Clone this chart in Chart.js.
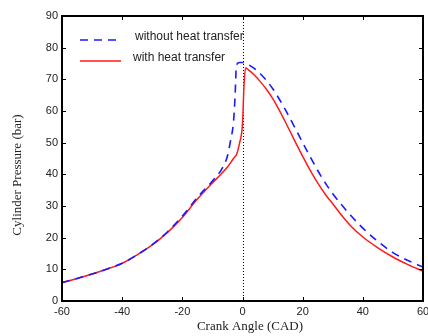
<!DOCTYPE html>
<html>
<head>
<meta charset="utf-8">
<script src="https://cdn.jsdelivr.net/npm/chart.js@4.4.1/dist/chart.umd.min.js"></script>
<style>
  html, body { margin: 0; padding: 0; background: #fff; }
  #pressureChart { display: block; }
</style>
</head>
<body>
<canvas id="pressureChart" width="428" height="336"></canvas>
<script>
// Crank angle (CAD) sample points
const crankAngle = [-60, -55, -50, -45, -40, -35, -30, -25, -20, -15, -10, -7, -5, -4, -3, -2.5, -2, -1, 0, 0.5, 1,
                    2, 4, 6, 8, 10, 12, 14, 16, 18, 20, 22, 24, 26, 28, 30, 33, 36, 40, 45, 50, 55, 60];

// Cylinder pressure (bar)
const pressureNoHeatTransfer = [5.8, 7.1, 8.5, 10.1, 11.9, 14.6, 17.8, 21.8, 26.8, 32.7, 37.9, 41.5, 45.8, 50.5, 56.5, 64, 74.5, 75.3, 75.3, 75.1, 75.0,
                                74.6, 73.4, 71.7, 69.6, 67.1, 64.1, 60.8, 57.3, 53.7, 50.0, 46.4, 42.9, 39.6, 36.6, 33.9, 30.3, 27.0, 23.0, 18.8, 15.3, 12.8, 10.7];
const pressureHeatTransfer = [5.8, 7.1, 8.5, 10.1, 11.9, 14.6, 17.7, 21.6, 26.4, 32.2, 37.3, 40.2, 42.3, 43.6, 45.0, 45.6, 46.2, 49.8, 56, 68, 73.6,
                              73.0, 71.3, 69.2, 66.8, 64.0, 60.7, 57.0, 53.2, 49.4, 45.7, 42.1, 38.8, 35.8, 33.1, 30.7, 27.0, 23.7, 20.2, 16.8, 13.9, 11.5, 9.4];

const seriesLabels = ['without heat transfer', 'with heat transfer'];
const xTicks = [-60, -40, -20, 0, 20, 40, 60];
const yTicks = [0, 10, 20, 30, 40, 50, 60, 70, 80, 90];

const toPoints = vals => crankAngle.map((a, i) => ({ x: a, y: vals[i] }));

// frame, inward ticks, TDC line, legend and axis titles
const framePlugin = {
  id: 'framePlugin',
  beforeDatasetsDraw(chart) {
    const { ctx, chartArea: a, scales: { x } } = chart;
    const x0 = Math.round(x.getPixelForValue(0)) + 0.5;
    ctx.save();
    ctx.strokeStyle = '#000';
    ctx.lineWidth = 1;
    ctx.setLineDash([1, 2]);
    ctx.beginPath();
    ctx.moveTo(x0, a.top);
    ctx.lineTo(x0, a.bottom);
    ctx.stroke();
    ctx.restore();
  },
  afterDatasetsDraw(chart) {
    const { ctx, chartArea: a, scales: { x, y } } = chart;
    const len = 4;
    ctx.save();
    ctx.strokeStyle = '#000';
    ctx.lineWidth = 1;
    ctx.beginPath();
    xTicks.forEach(v => {
      const px = Math.round(x.getPixelForValue(v)) + 0.5;
      ctx.moveTo(px, a.top); ctx.lineTo(px, a.top + len);
      ctx.moveTo(px, a.bottom); ctx.lineTo(px, a.bottom - len);
    });
    yTicks.forEach(v => {
      const py = Math.round(y.getPixelForValue(v)) + 0.5;
      ctx.moveTo(a.left, py); ctx.lineTo(a.left + len, py);
      ctx.moveTo(a.right, py); ctx.lineTo(a.right - len, py);
    });
    ctx.stroke();

    ctx.lineWidth = 2;
    ctx.strokeRect(a.left, a.top, a.right - a.left, a.bottom - a.top);

    // legend
    const ds = chart.data.datasets;
    const rows = [40, 61];
    ds.forEach((d, i) => {
      ctx.strokeStyle = d.borderColor;
      ctx.lineWidth = d.borderWidth;
      ctx.setLineDash(d.borderDash || []);
      ctx.beginPath();
      ctx.moveTo(80, rows[i]);
      ctx.lineTo(121, rows[i]);
      ctx.stroke();
      ctx.setLineDash([]);
      ctx.fillStyle = '#222';
      ctx.font = '12px "Liberation Sans", Arial, sans-serif';
      ctx.textBaseline = 'middle';
      ctx.textAlign = 'left';
      ctx.fillText(d.label, i === 0 ? 135 : 133, rows[i] - 3);
    });

    // axis titles
    ctx.fillStyle = '#222';
    ctx.font = '13px "Liberation Serif", "Times New Roman", serif';
    ctx.textAlign = 'center';
    ctx.textBaseline = 'middle';
    ctx.fillText('Crank Angle (CAD)', 250, 327);
    ctx.translate(18, 175);
    ctx.rotate(-Math.PI / 2);
    ctx.fillText('Cylinder Pressure (bar)', 0, 0);
    ctx.restore();
  }
};

const tickFont = { family: '"Liberation Sans", Arial, sans-serif', size: 11 };

new Chart(document.getElementById('pressureChart'), {
  type: 'line',
  data: {
    datasets: [{
      label: seriesLabels[0],
      data: toPoints(pressureNoHeatTransfer),
      borderColor: '#1a1aff',
      borderWidth: 1.6,
      borderDash: [8, 6],
      pointRadius: 0,
      cubicInterpolationMode: 'monotone',
      fill: false
    }, {
      label: seriesLabels[1],
      data: toPoints(pressureHeatTransfer),
      borderColor: '#ff1a1a',
      borderWidth: 1.5,
      pointRadius: 0,
      cubicInterpolationMode: 'monotone',
      fill: false
    }]
  },
  options: {
    responsive: false,
    animation: false,
    layout: { padding: { top: 16, right: 5, left: 0, bottom: 0 } },
    plugins: {
      legend: { display: false },
      tooltip: { enabled: false }
    },
    scales: {
      x: {
        type: 'linear',
        min: -60,
        max: 60,
        afterBuildTicks: s => { s.ticks = xTicks.map(v => ({ value: v })); },
        afterFit: s => { s.height = 35; s.paddingLeft = 0; s.paddingRight = 0; },
        grid: { display: false, drawTicks: false },
        border: { display: false },
        ticks: { font: tickFont, color: '#222', padding: 4, maxRotation: 0 }
      },
      y: {
        min: 0,
        max: 90,
        afterBuildTicks: s => { s.ticks = yTicks.map(v => ({ value: v })); },
        afterFit: s => { s.width = 62; s.paddingTop = 0; s.paddingBottom = 0; },
        grid: { display: false, drawTicks: false },
        border: { display: false },
        ticks: { font: tickFont, color: '#222', padding: 4 }
      }
    }
  },
  plugins: [framePlugin]
});
</script>
</body>
</html>
